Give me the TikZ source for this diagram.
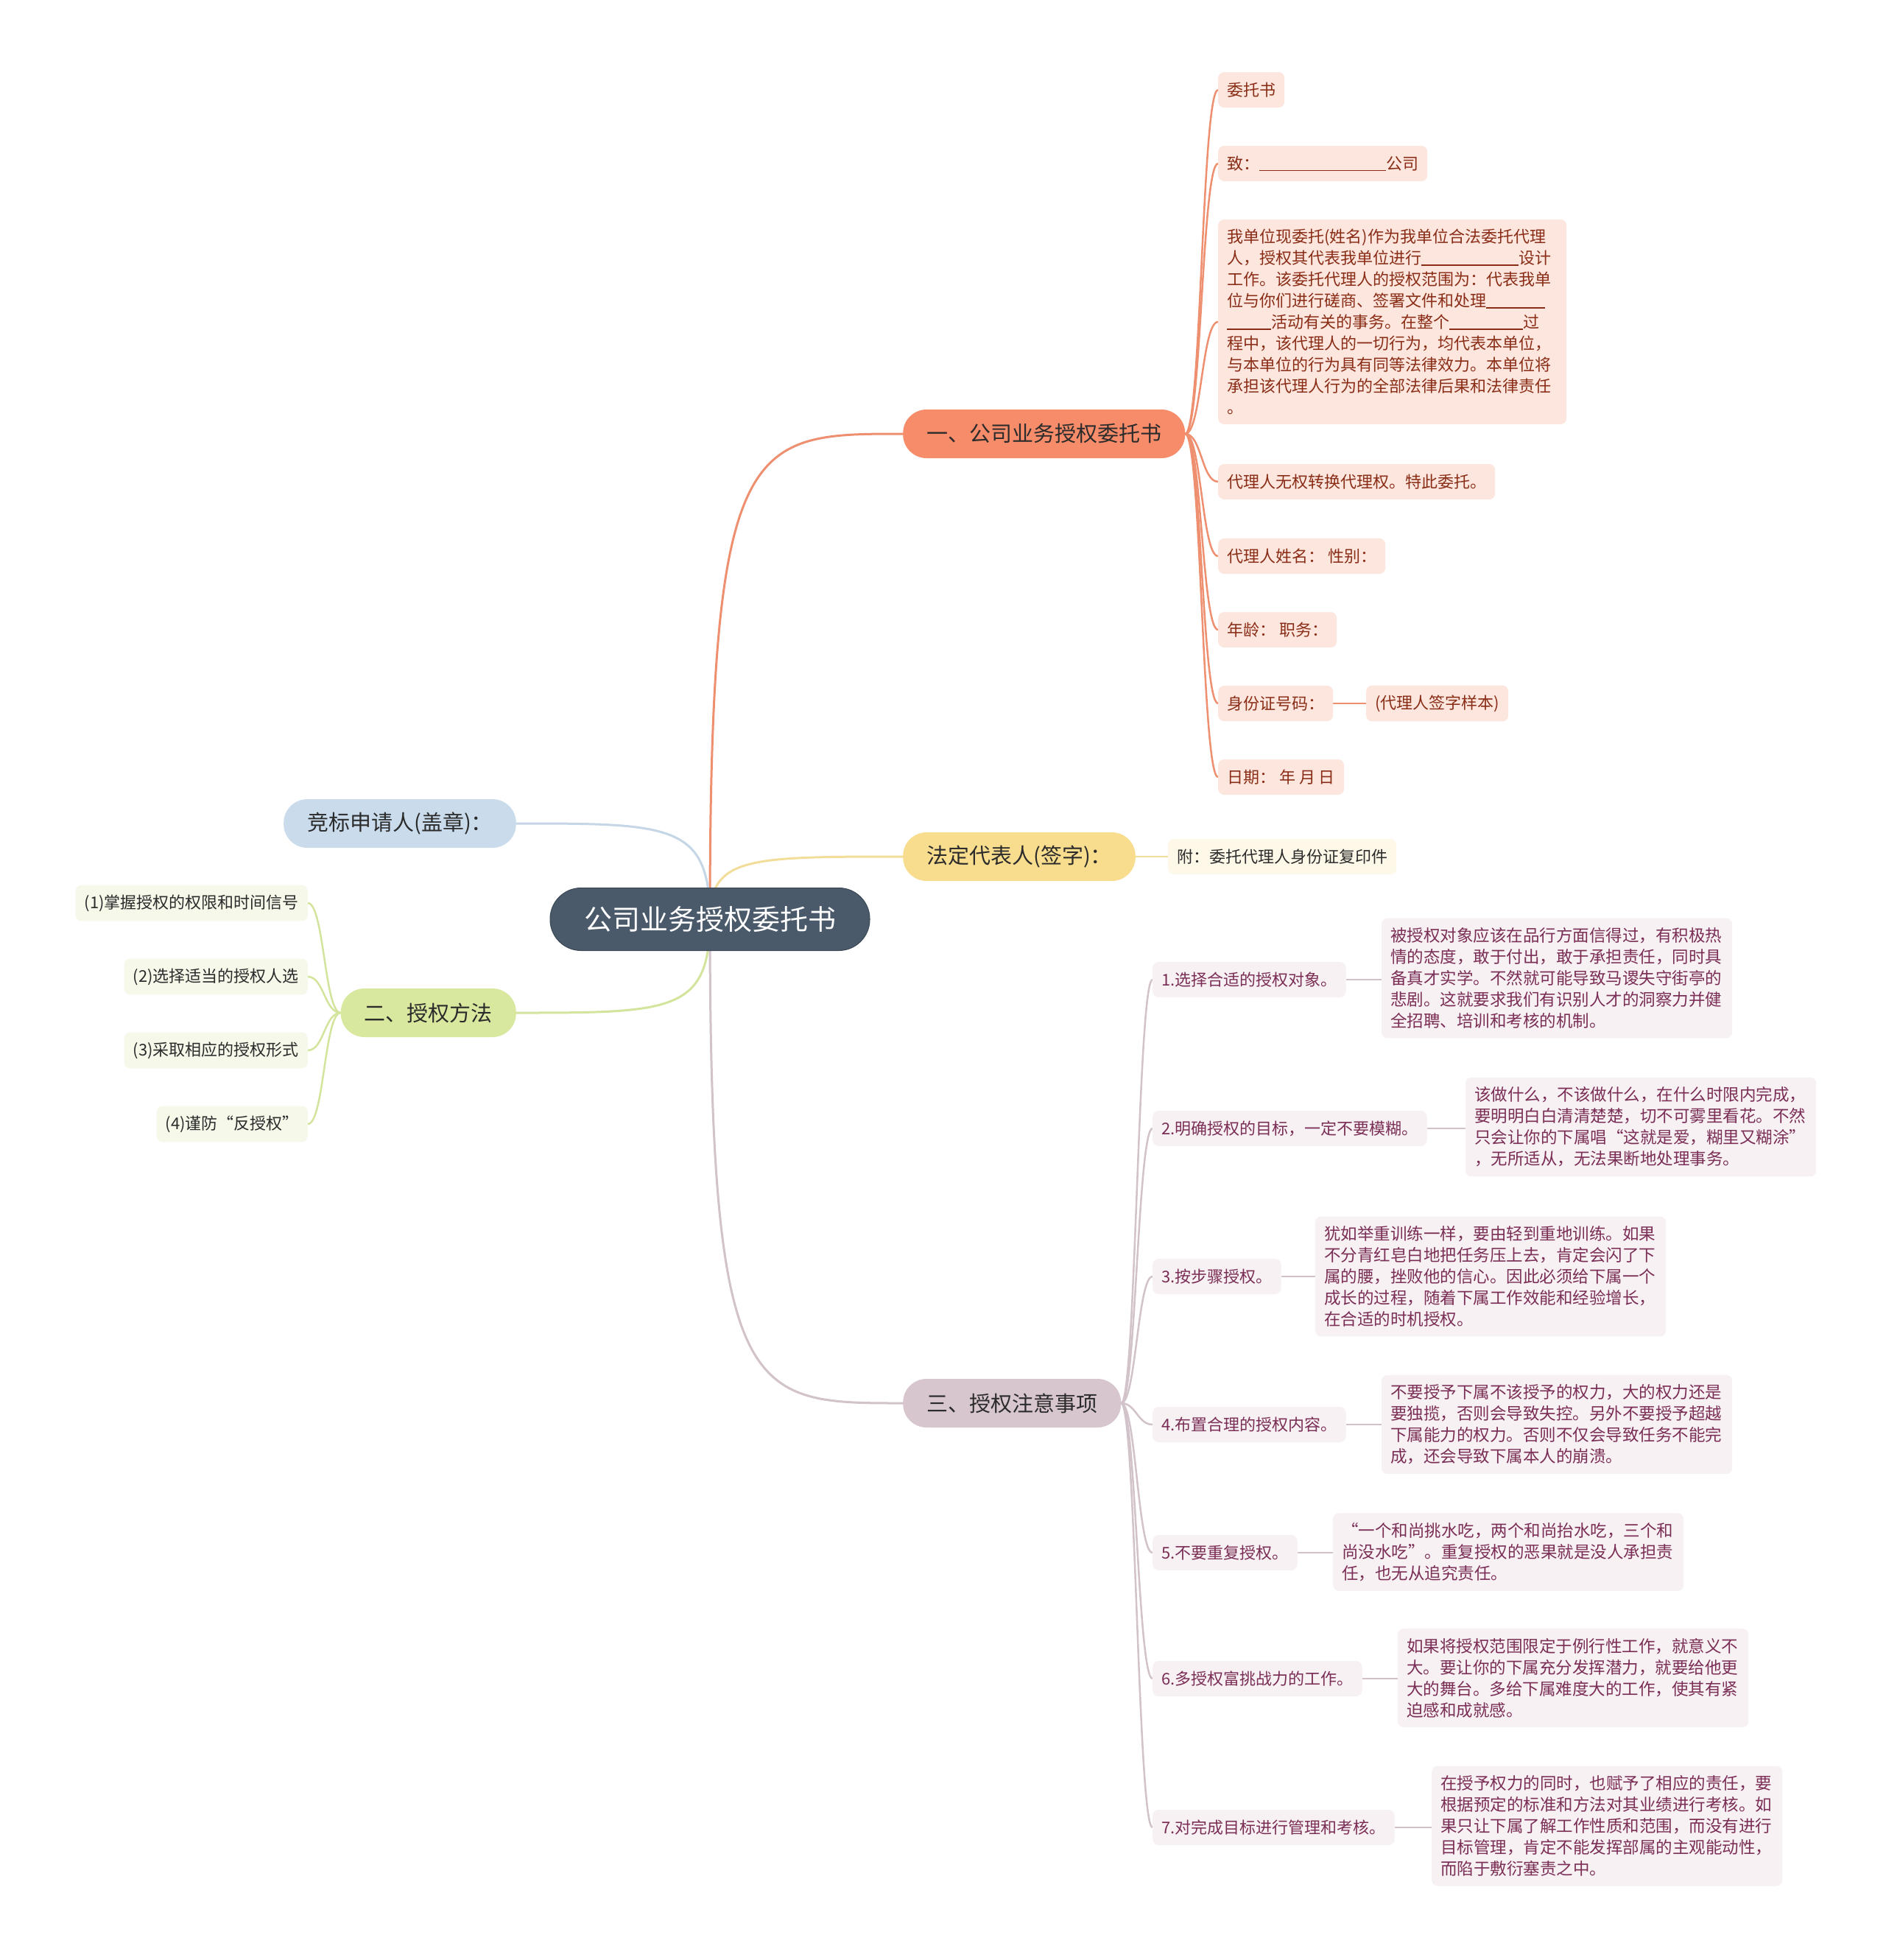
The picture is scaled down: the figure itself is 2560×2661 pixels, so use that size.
\documentclass[tikz,border=0pt]{standalone}
\usepackage{fontspec}
\setmainfont{Noto Sans CJK SC}
\usepackage{xcolor}
\usetikzlibrary{backgrounds}
\definecolor{rootfill}{HTML}{4A5A6A}
\definecolor{coral}{HTML}{F78C6B}
\definecolor{coralline}{HTML}{EE8F70}
\definecolor{coralsoft}{HTML}{FCE6DE}
\definecolor{coraltext}{HTML}{8A2D17}
\definecolor{sand}{HTML}{F8DD8F}
\definecolor{sandline}{HTML}{F3DD9A}
\definecolor{sandsoft}{HTML}{FDF8E8}
\definecolor{sky}{HTML}{CADCEC}
\definecolor{skyline}{HTML}{C5D6E6}
\definecolor{lime}{HTML}{D8E89F}
\definecolor{limeline}{HTML}{D3E49C}
\definecolor{limesoft}{HTML}{F6F9EA}
\definecolor{mauve}{HTML}{D8C6CE}
\definecolor{mauveline}{HTML}{D2C2C9}
\definecolor{mauvesoft}{HTML}{F7F1F4}
\definecolor{mauvetext}{HTML}{7B2E55}
\definecolor{ink}{HTML}{2B2B2B}
\newcommand{\fillblank}[1]{\rule[-2pt]{#1pt}{1.2pt}}
\tikzset{
  rootbox/.style={fill=rootfill, draw=rootfill!80!black, line width=1pt, rounded corners=42pt, minimum height=85pt, inner xsep=46pt, inner ysep=0pt, text=white, font=\fontsize{38}{46}\selectfont},
  mainbox/.style={rounded corners=32pt, minimum height=66pt, inner xsep=32pt, inner ysep=0pt, text=ink, font=\fontsize{29}{35}\selectfont},
  coralbox/.style={mainbox, fill=coral},
  sandbox/.style={mainbox, fill=sand},
  skybox/.style={mainbox, fill=sky},
  limebox/.style={mainbox, fill=lime},
  mauvebox/.style={mainbox, fill=mauve},
  subbox/.style={rounded corners=8pt, minimum height=48pt, inner xsep=12pt, inner ysep=13pt, font=\fontsize{22}{29}\selectfont},
  coralsub/.style={subbox, fill=coralsoft, text=coraltext},
  sandsub/.style={subbox, fill=sandsoft, text=ink},
  limesub/.style={subbox, fill=limesoft, text=ink},
  mauvesub/.style={subbox, fill=mauvesoft, text=mauvetext},
  notebox/.style={mauvesub, text width=452pt, align=left, font=\fontsize{22.5}{29}\selectfont},
  link/.style={line width=3pt},
  sublink/.style={line width=2.5pt}
}
\begin{document}
\begin{tikzpicture}[x=1pt, y=-1pt]
  \useasboundingbox (0,0) rectangle (2560,2661);
  \node[rootbox] (root) at (964,1248) {公司业务授权委托书};
  \node[coralbox, anchor=west] (letter) at (1226,589) {一、公司业务授权委托书};
  \node[sandbox, anchor=west] (legal) at (1226,1163) {法定代表人(签字)：};
  \node[mauvebox, anchor=west] (notes) at (1226,1905) {三、授权注意事项};
  \node[skybox, anchor=east] (bidder) at (701,1118) {竞标申请人(盖章)：};
  \node[limebox, anchor=east] (method) at (701,1375) {二、授权方法};
  % letter items
  \node[coralsub, anchor=west] (l1) at (1654,122) {委托书};
  \node[coralsub, anchor=west] (l2) at (1654,222) {致：\fillblank{172}公司};
  \node[coralsub, anchor=west, text width=449pt, align=left] (l3) at (1654,437) {我单位现委托(姓名)作为我单位合法委托代理\\人，授权其代表我单位进行\fillblank{132}设计\\工作。该委托代理人的授权范围为：代表我单\\位与你们进行磋商、签署文件和处理\fillblank{80}\\\fillblank{60}活动有关的事务。在整个\fillblank{100}过\\程中，该代理人的一切行为，均代表本单位，\\与本单位的行为具有同等法律效力。本单位将\\承担该代理人行为的全部法律后果和法律责任\\。};
  \node[coralsub, anchor=west] (l4) at (1654,654) {代理人无权转换代理权。特此委托。};
  \node[coralsub, anchor=west] (l5) at (1654,755) {代理人姓名：\ 性别：};
  \node[coralsub, anchor=west] (l6) at (1654,855) {年龄：\ 职务：};
  \node[coralsub, anchor=west] (l7) at (1654,955) {身份证号码：};
  \node[coralsub, anchor=west] (sign) at (1855,955) {(代理人签字样本)};
  \node[coralsub, anchor=west] (l8) at (1654,1055) {日期：\ 年 月 日};
  % legal item
  \node[sandsub, anchor=west] (copy) at (1586,1163) {附：委托代理人身份证复印件};
  % method items
  \node[limesub, anchor=east] (m1) at (418,1226) {(1)掌握授权的权限和时间信号};
  \node[limesub, anchor=east] (m2) at (418,1326) {(2)选择适当的授权人选};
  \node[limesub, anchor=east] (m3) at (418,1426) {(3)采取相应的授权形式};
  \node[limesub, anchor=east] (m4) at (418,1526) {(4)谨防“反授权”};
  % notes items
  \node[mauvesub, anchor=west] (n1) at (1565,1330) {1.选择合适的授权对象。};
  \node[mauvesub, anchor=west] (n2) at (1565,1532) {2.明确授权的目标，一定不要模糊。};
  \node[mauvesub, anchor=west] (n3) at (1565,1733) {3.按步骤授权。};
  \node[mauvesub, anchor=west] (n4) at (1565,1934) {4.布置合理的授权内容。};
  \node[mauvesub, anchor=west] (n5) at (1565,2108) {5.不要重复授权。};
  \node[mauvesub, anchor=west] (n6) at (1565,2279) {6.多授权富挑战力的工作。};
  \node[mauvesub, anchor=west] (n7) at (1565,2481) {7.对完成目标进行管理和考核。};
  \node[notebox, anchor=west] (d1) at (1876,1328) {被授权对象应该在品行方面信得过，有积极热\\情的态度，敢于付出，敢于承担责任，同时具\\备真才实学。不然就可能导致马谡失守街亭的\\悲剧。这就要求我们有识别人才的洞察力并健\\全招聘、培训和考核的机制。};
  \node[notebox, anchor=west] (d2) at (1990,1530) {该做什么，不该做什么，在什么时限内完成，\\要明明白白清清楚楚，切不可雾里看花。不然\\只会让你的下属唱“这就是爱，糊里又糊涂”\\，无所适从，无法果断地处理事务。};
  \node[notebox, anchor=west] (d3) at (1786,1733) {犹如举重训练一样，要由轻到重地训练。如果\\不分青红皂白地把任务压上去，肯定会闪了下\\属的腰，挫败他的信心。因此必须给下属一个\\成长的过程，随着下属工作效能和经验增长，\\在合适的时机授权。};
  \node[notebox, anchor=west] (d4) at (1876,1934) {不要授予下属不该授予的权力，大的权力还是\\要独揽，否则会导致失控。另外不要授予超越\\下属能力的权力。否则不仅会导致任务不能完\\成，还会导致下属本人的崩溃。};
  \node[notebox, anchor=west] (d5) at (1810,2107) {“一个和尚挑水吃，两个和尚抬水吃，三个和\\尚没水吃”。重复授权的恶果就是没人承担责\\任，也无从追究责任。};
  \node[notebox, anchor=west] (d6) at (1898,2278) {如果将授权范围限定于例行性工作，就意义不\\大。要让你的下属充分发挥潜力，就要给他更\\大的舞台。多给下属难度大的工作，使其有紧\\迫感和成就感。};
  \node[notebox, anchor=west] (d7) at (1944,2479) {在授予权力的同时，也赋予了相应的责任，要\\根据预定的标准和方法对其业绩进行考核。如\\果只让下属了解工作性质和范围，而没有进行\\目标管理，肯定不能发挥部属的主观能动性，\\而陷于敷衍塞责之中。};
  \begin{scope}[on background layer]
    \fill[white] (0,0) rectangle (2560,2661);
    \draw[link, coralline] (root.center) .. controls +(0,-659) and +(-210,0) .. (letter.west);
    \draw[link, sandline] (root.center) .. controls +(0,-85) and +(-210,0) .. (legal.west);
    \draw[link, mauveline] (root.center) .. controls +(0,657) and +(-210,0) .. (notes.west);
    \draw[link, skyline] (root.center) .. controls +(0,-130) and +(210,0) .. (bidder.east);
    \draw[link, limeline] (root.center) .. controls +(0,127) and +(210,0) .. (method.east);
    \foreach \n in {l1,l2,l3,l4,l5,l6,l7,l8}
      \draw[sublink, coralline] (letter.east) .. controls +(22,0) and +(-22,0) .. (\n.west);
    \draw[sublink, coralline] (l7.east) -- (sign.west);
    \draw[sublink, sandline] (legal.east) -- (copy.west);
    \foreach \n in {m1,m2,m3,m4}
      \draw[sublink, limeline] (method.west) .. controls +(-22,0) and +(22,0) .. (\n.east);
    \foreach \n in {1,...,7} {
      \draw[sublink, mauveline] (notes.east) .. controls +(20,0) and +(-20,0) .. (n\n.west);
      \draw[sublink, mauveline] (n\n.east) -- (n\n.east -| d\n.west);
    }
  \end{scope}
\end{tikzpicture}
\end{document}
